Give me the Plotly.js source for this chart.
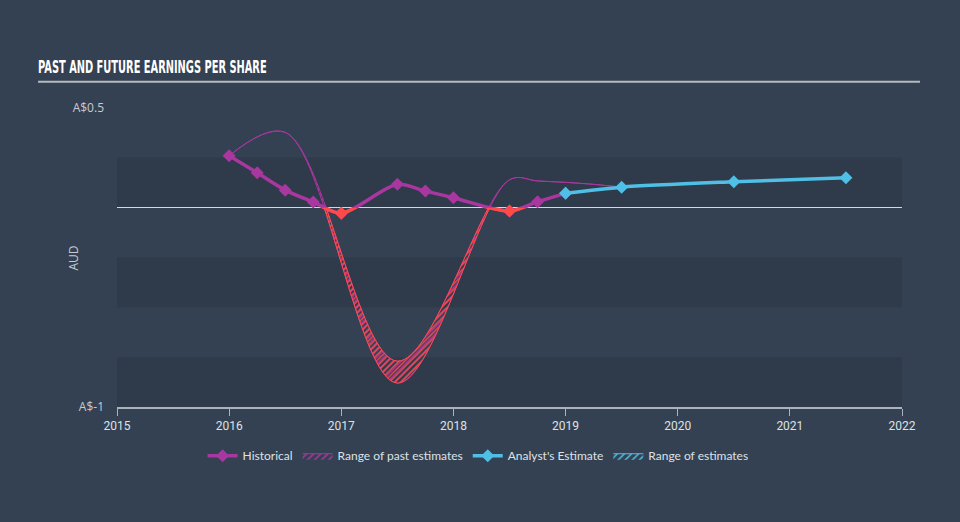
<!DOCTYPE html>
<html>
<head>
<meta charset="utf-8">
<script src="https://cdn.plot.ly/plotly-3.0.1.min.js"></script>
<style>
html,body{margin:0;padding:0;background:#344152;}
#chart{width:960px;height:522px;}
.gtitle{transform:scaleX(0.58);transform-box:fill-box;transform-origin:left center;}
</style>
</head>
<body>
<div id="chart"></div>
<script>
// ---- data ----
var histX = [2016.0, 2016.25, 2016.5, 2016.75, 2017.0, 2017.5, 2017.75, 2018.0, 2018.5, 2018.75, 2019.0];
var histY = [0.26, 0.175, 0.088, 0.028, -0.028, 0.117, 0.083, 0.05, -0.017, 0.03, 0.072];
var pastRangeX = [2016.0, 2016.5, 2017.5, 2018.5, 2018.75, 2019.0, 2019.25, 2019.5];
var pastRangeLow = [0.26, 0.378, -0.88, 0.14, 0.134, 0.127, 0.117, 0.103];
var pastRangeHigh = [0.26, 0.378, -0.77, 0.14, 0.134, 0.127, 0.117, 0.103];
var estX = [2019.0, 2019.5, 2020.5, 2021.5];
var estY = [0.072, 0.103, 0.13, 0.15];
var estRangeLow = [0.072, 0.103, 0.13, 0.15];
var estRangeHigh = [0.072, 0.103, 0.13, 0.15];
var yearTicks = [2015, 2016, 2017, 2018, 2019, 2020, 2021, 2022];
var yTickVals = [-1, 0.5];
var yTickText = ['A$-1', 'A$0.5'];

// ---- styles ----
var PURPLE = '#a8379f', RED = '#ff4a4a', CYAN = '#4fbfe6';
var BG = '#344152', BAND = '#2f3a4a';

var negX = [], negY = [];
histX.forEach(function (x, i) { if (histY[i] < 0) { negX.push(x); negY.push(histY[i]); } });

var traces = [
  {x: pastRangeX, y: pastRangeLow, mode: 'lines', line: {color: PURPLE, width: 1, shape: 'spline'},
   showlegend: false, hoverinfo: 'skip', legendgroup: 'pr'},
  {x: pastRangeX, y: pastRangeHigh, mode: 'lines', line: {color: PURPLE, width: 1, shape: 'spline'},
   fill: 'tonexty', fillcolor: 'rgba(0,0,0,0)',
   fillpattern: {shape: '/', fgcolor: PURPLE, bgcolor: 'rgba(0,0,0,0)', size: 5, solidity: 0.3},
   name: 'Range of past estimates', legendgroup: 'pr', legendrank: 2},
  {x: pastRangeX, y: pastRangeLow, yaxis: 'y2', mode: 'lines', line: {color: RED, width: 1, shape: 'spline'},
   showlegend: false, hoverinfo: 'skip'},
  {x: pastRangeX, y: pastRangeHigh, yaxis: 'y2', mode: 'lines', line: {color: RED, width: 1, shape: 'spline'},
   fill: 'tonexty', fillcolor: 'rgba(0,0,0,0)',
   fillpattern: {shape: '/', fgcolor: RED, bgcolor: 'rgba(0,0,0,0)', size: 4, solidity: 0.35},
   showlegend: false, hoverinfo: 'skip'},
  {x: estX, y: estRangeLow, mode: 'lines', line: {color: CYAN, width: 1, shape: 'spline'},
   showlegend: false, hoverinfo: 'skip', legendgroup: 'fr'},
  {x: estX, y: estRangeHigh, mode: 'lines', line: {color: CYAN, width: 1, shape: 'spline'},
   fill: 'tonexty', fillcolor: 'rgba(0,0,0,0)',
   fillpattern: {shape: '/', fgcolor: CYAN, bgcolor: 'rgba(0,0,0,0)', size: 5, solidity: 0.3},
   name: 'Range of estimates', legendgroup: 'fr', legendrank: 4},
  {x: histX, y: histY, mode: 'lines+markers', name: 'Historical', legendrank: 1,
   line: {color: PURPLE, width: 3.5, shape: 'spline', smoothing: 0.8},
   marker: {symbol: 'diamond', size: 10, color: PURPLE}},
  {x: histX, y: histY, yaxis: 'y2', mode: 'lines', showlegend: false, hoverinfo: 'skip',
   line: {color: RED, width: 3.5, shape: 'spline', smoothing: 0.8}},
  {x: negX, y: negY, mode: 'markers', showlegend: false, cliponaxis: false,
   marker: {symbol: 'diamond', size: 10, color: RED}},
  {x: estX, y: estY, mode: 'lines+markers', name: "Analyst's Estimate", legendrank: 3,
   line: {color: CYAN, width: 3.5, shape: 'spline', smoothing: 0.8},
   marker: {symbol: 'diamond', size: 10, color: CYAN}}
];

var shapes = [[0, 0.25], [-0.25, -0.5], [-0.75, -1]].map(function (b) {
  return {type: 'rect', xref: 'x', yref: 'y', x0: 2015, x1: 2022, y0: b[0], y1: b[1],
          fillcolor: BAND, line: {width: 0}, layer: 'below'};
});
shapes.push({type: 'line', xref: 'paper', yref: 'paper', x0: -0.1006, x1: 1.0229, y0: 1.088, y1: 1.088,
             line: {color: '#b4bac2', width: 2}});

var layout = {
  width: 960, height: 522,
  paper_bgcolor: BG, plot_bgcolor: 'rgba(0,0,0,0)',
  margin: {l: 117, r: 58, t: 108, b: 115},
  title: {text: 'PAST AND FUTURE EARNINGS PER SHARE', xref: 'container', x: 38 / 960, xanchor: 'left',
          yref: 'container', y: 1 - 67 / 522, yanchor: 'middle',
          font: {family: 'DejaVu Sans, sans-serif', size: 17, color: '#ffffff', weight: 'bold'}},
  xaxis: {range: [2015, 2022], tickvals: yearTicks, tickformat: 'd', ticks: 'outside', ticklen: 7,
          tickcolor: '#aab2bc', showline: true, linecolor: '#aab2bc', linewidth: 1.5, showgrid: false,
          zeroline: false, fixedrange: true, anchor: 'y',
          tickfont: {family: 'Roboto, sans-serif', size: 12, color: '#dde1e6'}},
  yaxis: {range: [-1, 0.5], domain: [0, 1], tickvals: yTickVals, ticktext: yTickText, ticks: '',
          showgrid: false, showline: false, zeroline: true, zerolinecolor: '#d4d7db', zerolinewidth: 1.5,
          ticklabelstandoff: 12, fixedrange: true,
          tickfont: {family: 'Open Sans, sans-serif', size: 12, color: '#c8ccd2'}},
  yaxis2: {range: [-1, 0], domain: [0, 2 / 3], anchor: 'x', showticklabels: false, showgrid: false,
           zeroline: false, showline: false, ticks: '', fixedrange: true},
  annotations: [{text: 'AUD', xref: 'paper', yref: 'paper', x: (73 - 117) / 785, y: (407 - 258.5) / 299,
                 xanchor: 'center', yanchor: 'middle', textangle: -90, showarrow: false,
                 font: {family: 'Open Sans, sans-serif', size: 12, color: '#c8ccd2'}}],
  legend: {orientation: 'h', x: 0.46, xanchor: 'center', y: -0.163, yanchor: 'middle',
           font: {family: 'Lato, sans-serif', size: 12, color: '#dde1e6'}, bgcolor: 'rgba(0,0,0,0)',
           traceorder: 'normal', itemwidth: 30},
  shapes: shapes,
  showlegend: true,
  hovermode: false
};

Plotly.newPlot('chart', traces, layout, {displayModeBar: false, staticPlot: true});
</script>
</body>
</html>
